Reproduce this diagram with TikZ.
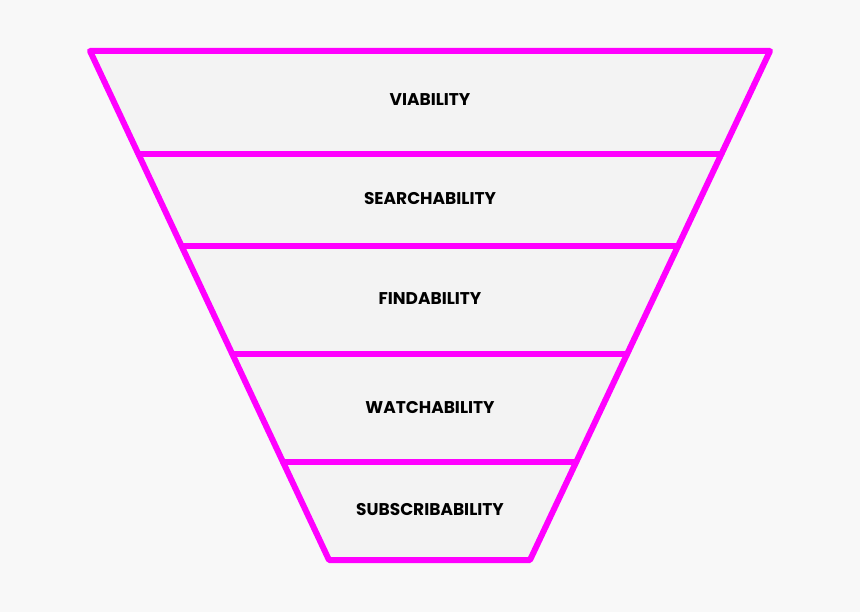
\documentclass[tikz,border=0pt]{standalone}
\usepackage{fontspec}
\setmainfont{Poppins}
\definecolor{bg}{HTML}{F8F8F8}
\definecolor{fillc}{HTML}{F3F3F3}
\definecolor{mag}{HTML}{FF00FF}
\begin{document}
\begin{tikzpicture}[x=1pt,y=-1pt,
  edge/.style={draw=mag,line width=6pt,line join=round,line cap=round},
  lbl/.style={font=\bfseries\fontsize{17}{20}\selectfont,text=black}]
\fill[bg] (0,0) rectangle (860,612);
\useasboundingbox (0,0) rectangle (860,612);
\coordinate (tl) at (90,51); \coordinate (tr) at (770,51);
\coordinate (bl) at (329,560); \coordinate (br) at (530,560);
\coordinate (l1) at (138.4,154); \coordinate (r1) at (721.4,154);
\coordinate (l2) at (181.6,246); \coordinate (r2) at (678,246);
\coordinate (l3) at (232.3,354); \coordinate (r3) at (627.1,354);
\coordinate (l4) at (283,462); \coordinate (r4) at (576.2,462);
\fill[fillc] (tl) -- (tr) -- (br) -- (bl) -- cycle;
\draw[edge] (tl) -- (tr) -- (br) -- (bl) -- cycle;
\draw[edge] (l1) -- (r1); \draw[edge] (l2) -- (r2);
\draw[edge] (l3) -- (r3); \draw[edge] (l4) -- (r4);
\node[lbl] (a) at (430,100) {VIABILITY};
\node[lbl] (b) at (430,199) {SEARCHABILITY};
\node[lbl] (c) at (430,299) {FINDABILITY};
\node[lbl] (d) at (430,408) {WATCHABILITY};
\node[lbl] (e) at (430,510) {SUBSCRIBABILITY};
\end{tikzpicture}
\end{document}
